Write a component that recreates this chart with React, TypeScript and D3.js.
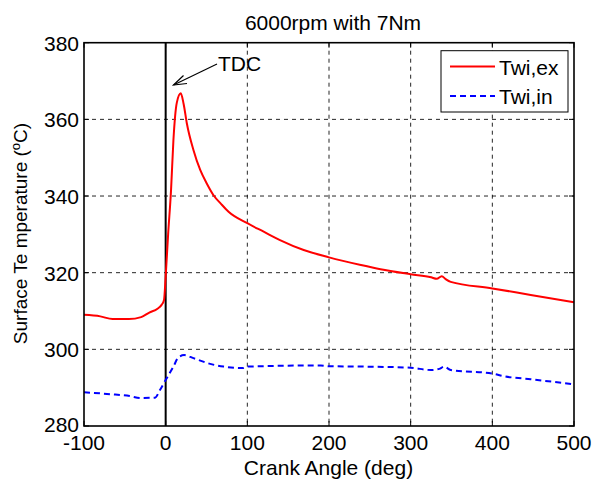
import React from "react";
import * as d3 from "d3";

const title = "6000rpm with 7Nm";
const xTicks = [-100, 0, 100, 200, 300, 400, 500];
const yTicks = [280, 300, 320, 340, 360, 380];
const seriesNames = ["Twi,ex", "Twi,in"];

const exAngle = [-100, -80, -65, -45, -30, -20, -10, -5, -2, 0, 3, 6.6, 9.5, 13.6, 18.5, 22, 25.9, 34, 42.3, 50, 58.6, 68, 77, 100, 120, 140, 169, 200, 239, 263, 300, 325, 332, 338, 343, 349, 400, 447, 500];
const exTemp = [309.0, 308.6, 307.9, 307.9, 308.4, 309.6, 310.6, 311.6, 312.9, 319, 330, 341.6, 354.6, 364.3, 366.8, 364, 359, 352, 346.8, 343.4, 340.2, 337.9, 335.9, 332.9, 330.7, 328.5, 325.9, 324.0, 322.0, 320.9, 319.6, 318.8, 318.4, 319.1, 318.3, 317.6, 315.9, 314.2, 312.3];

const inAngle = [-100, -68, -44, -31, -13, -7, 0, 9.5, 15.6, 22.6, 34, 54.5, 71, 94, 100, 190, 200, 243, 300, 325, 335, 341, 349, 400, 414, 447, 500];
const inTemp = [288.8, 288.3, 287.8, 287.3, 287.4, 289.4, 292, 295.5, 297.9, 298.5, 297.7, 296.2, 295.5, 295.1, 295.5, 295.8, 295.6, 295.5, 295.2, 294.6, 294.9, 295.5, 294.6, 293.7, 293.0, 292.2, 290.9];

export default function App() {
  const W = 594, H = 486;
  const L = 84, R = 574, T = 42.7, B = 426;
  const x = d3.scaleLinear().domain([-100, 500]).range([L, R]);
  const y = d3.scaleLinear().domain([280, 380]).range([B, T]);
  const line = d3.line<[number, number]>().x(d => x(d[0])).y(d => y(d[1])).curve(d3.curveMonotoneX);
  const exPath = line(exAngle.map((a, i) => [a, exTemp[i]]) as [number, number][]) || "";
  const inPath = line(inAngle.map((a, i) => [a, inTemp[i]]) as [number, number][]) || "";
  const font = "Arial, 'Liberation Sans', Helvetica, sans-serif";
  const fs = 21;
  return (
    <svg width={W} height={H} style={{ position: "absolute", left: 0, top: 0, background: "#fff" }} fontFamily={font}>
      <rect x={0} y={0} width={W} height={H} fill="#fff" />
      {/* grid */}
      {xTicks.filter(t => t > -100 && t < 500 && t !== 0).map(t => (
        <line key={"gx" + t} x1={x(t)} x2={x(t)} y1={T} y2={B} stroke="#000" strokeWidth={1} strokeDasharray="4,4" opacity={0.85} />
      ))}
      {yTicks.filter(t => t > 280 && t < 380).map(t => (
        <line key={"gy" + t} x1={L} x2={R} y1={y(t)} y2={y(t)} stroke="#000" strokeWidth={1} strokeDasharray="4,4" opacity={0.85} />
      ))}
      {/* ticks */}
      {xTicks.map(t => (
        <g key={"tx" + t}>
          <line x1={x(t)} x2={x(t)} y1={B} y2={B - 5} stroke="#000" strokeWidth={1} />
          <line x1={x(t)} x2={x(t)} y1={T} y2={T + 5} stroke="#000" strokeWidth={1} />
          <text x={x(t)} y={B + 24} textAnchor="middle" fontSize={fs} fill="#000">{t}</text>
        </g>
      ))}
      {yTicks.map(t => (
        <g key={"ty" + t}>
          <line x1={L} x2={L + 5} y1={y(t)} y2={y(t)} stroke="#000" strokeWidth={1} />
          <line x1={R} x2={R - 5} y1={y(t)} y2={y(t)} stroke="#000" strokeWidth={1} />
          <text x={L - 5} y={y(t) + (t === 280 ? 6 : 8)} textAnchor="end" fontSize={fs} fill="#000">{t}</text>
        </g>
      ))}
      {/* TDC line */}
      <line x1={x(0)} x2={x(0)} y1={T} y2={B} stroke="#000" strokeWidth={2} />
      {/* series */}
      <path d={exPath} fill="none" stroke="#ff0000" strokeWidth={2} />
      <path d={inPath} fill="none" stroke="#0000ff" strokeWidth={2} strokeDasharray="6,4" />
      {/* frame */}
      <rect x={L} y={T} width={R - L} height={B - T} fill="none" stroke="#000" strokeWidth={1.6} />
      {/* TDC annotation */}
      <line x1={217} y1={64} x2={173.5} y2={85} stroke="#000" strokeWidth={1.2} />
      <path d="M 183.5 75.5 L 173.5 85 L 187 83.5" fill="none" stroke="#000" strokeWidth={1.2} />
      <text x={218} y={71} fontSize={fs} fill="#000">TDC</text>
      {/* legend */}
      <rect x={441} y={50.7} width={127} height={61.3} fill="#fff" stroke="#000" strokeWidth={1} />
      <line x1={450} x2={495} y1={66.5} y2={66.5} stroke="#ff0000" strokeWidth={2} />
      <line x1={450} x2={495} y1={96} y2={96} stroke="#0000ff" strokeWidth={2} strokeDasharray="6,4" />
      <text x={499} y={75} fontSize={fs} fill="#000">{seriesNames[0]}</text>
      <text x={499} y={104} fontSize={fs} fill="#000">{seriesNames[1]}</text>
      {/* titles */}
      <text x={333} y={30} textAnchor="middle" fontSize={fs} fill="#000">{title}</text>
      <text x={328.5} y={475} textAnchor="middle" fontSize={fs} fill="#000">Crank Angle (deg)</text>
      <text transform={`translate(27, 233.5) rotate(-90)`} textAnchor="middle" fontSize={19} fill="#000">
        Surface Te mperature (<tspan dy={-7} fontSize={13}>o</tspan><tspan dy={7}>C)</tspan>
      </text>
    </svg>
  );
}
